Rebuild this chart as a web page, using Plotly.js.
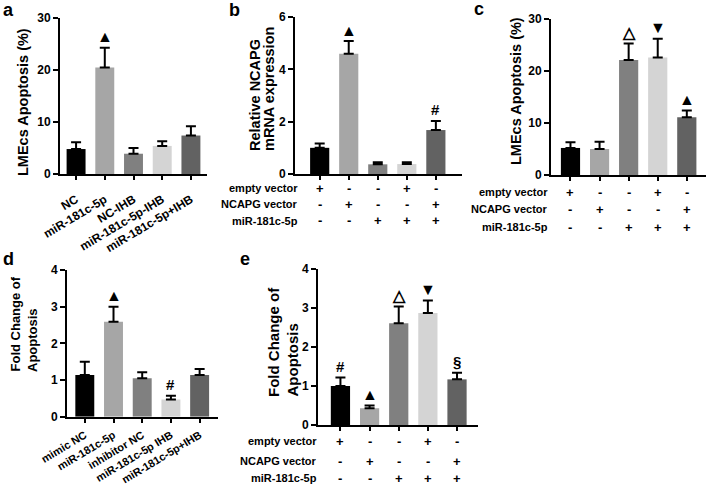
<!DOCTYPE html>
<html>
<head>
<meta charset="utf-8">
<script src="https://cdn.plot.ly/plotly-3.0.1.min.js"></script>
<style>
  body { margin: 0; background: #fff; }
  #plot { width: 708px; height: 488px; }
</style>
</head>
<body>
<div id="plot"></div>
<script>
// panel a
const aLabels = ['NC', 'miR-181c-5p', 'NC-IHB', 'miR-181c-5p-IHB', 'miR-181c-5p+IHB'];
const aMean = [4.8, 20.5, 3.9, 5.4, 7.4];
const aErr = [1.3, 3.8, 1.1, 0.9, 1.8];
const aMarks = ['', '▲', '', '', ''];

// panel b
const bMean = [1.0, 4.6, 0.37, 0.38, 1.68];
const bErr = [0.17, 0.48, 0.08, 0.07, 0.35];
const bMarks = ['', '▲', '', '', '#'];

// panel c
const cMean = [5.2, 5.0, 22.1, 22.6, 11.1];
const cErr = [1.1, 1.4, 3.2, 3.6, 1.3];
const cMarks = ['', '', '△', '▼', '▲'];

// panel d
const dLabels = ['mimic NC', 'miR-181c-5p', 'inhibitor NC', 'miR-181c-5p IHB', 'miR-181c-5p+IHB'];
const dMean = [1.14, 2.59, 1.05, 0.47, 1.14];
const dErr = [0.36, 0.41, 0.16, 0.1, 0.16];
const dMarks = ['', '▲', '', '#', ''];

// panel e
const eMean = [1.0, 0.43, 2.61, 2.87, 1.17];
const eErr = [0.22, 0.07, 0.43, 0.32, 0.17];
const eMarks = ['#', '▲', '△', '▼', '§'];

// +/- table under b, c, e
const rowLabels = ['empty vector', 'NCAPG vector', 'miR-181c-5p'];
const rowSigns = [
    ['+', '-', '-', '+', '-'],
    ['-', '+', '-', '-', '+'],
    ['-', '-', '+', '+', '+']
];

const barColors = ['#000000', '#a6a6a6', '#808080', '#d4d4d4', '#626262'];

const W = 708, H = 488;
const FONT = 'Liberation Sans, Arial, sans-serif';
const px = x => x / W;
const py = y => 1 - y / H;
const idx = [0, 1, 2, 3, 4];

function barTrace(mean, err, n) {
    return {
        type: 'bar',
        x: idx,
        y: mean,
        width: 0.66,
        marker: { color: barColors, line: { width: 0 } },
        error_y: {
            type: 'data', symmetric: false, array: err, arrayminus: mean.map(() => 0),
            color: '#000', thickness: 2, width: 5
        },
        xaxis: 'x' + (n === 1 ? '' : n),
        yaxis: 'y' + (n === 1 ? '' : n),
        hoverinfo: 'skip'
    };
}

const data = [
    barTrace(aMean, aErr, 1),
    barTrace(bMean, bErr, 2),
    barTrace(cMean, cErr, 3),
    barTrace(dMean, dErr, 4),
    barTrace(eMean, eErr, 5)
];

const axisBase = {
    showline: true, linewidth: 2, linecolor: '#000',
    ticks: 'outside', ticklen: 5, tickwidth: 2, tickcolor: '#000',
    showgrid: false, zeroline: false, fixedrange: true,
    tickfont: { family: FONT, size: 12, color: '#000', weight: 'bold' }
};

function xAxis(x0, x1, r, labels, anchor, fsize, standoff) {
    return Object.assign({}, axisBase, {
        domain: [px(x0), px(x1)], range: r, anchor: anchor,
        tickvals: idx, ticktext: labels || idx.map(() => ''),
        showticklabels: !!labels, ticklen: 4, tickangle: labels ? -31 : 0,
        ticklabelstandoff: standoff || 0,
        tickfont: { family: FONT, size: fsize || 12, color: '#000', weight: 'bold' }
    });
}
function yAxis(yBottom, yTop, top, dtick, anchor) {
    return Object.assign({}, axisBase, {
        domain: [py(yBottom), py(yTop)], range: [0, top], dtick: dtick, anchor: anchor
    });
}

const annotations = [];

function addMarks(mean, err, marks, n) {
    marks.forEach((m, i) => {
        if (!m) return;
        annotations.push({
            xref: 'x' + (n === 1 ? '' : n), yref: 'y' + (n === 1 ? '' : n),
            x: i, y: mean[i] + err[i], yshift: 11, yanchor: 'middle',
            text: m, showarrow: false,
            font: { family: FONT, size: m === '#' || m === '§' ? 15 : 16, color: '#000', weight: 'bold' }
        });
    });
}
addMarks(aMean, aErr, aMarks, 1);
addMarks(bMean, bErr, bMarks, 2);
addMarks(cMean, cErr, cMarks, 3);
addMarks(dMean, dErr, dMarks, 4);
addMarks(eMean, eErr, eMarks, 5);

function addTable(n, rowsY, labelRight, size) {
    rowsY.forEach((yy, r) => {
        annotations.push({
            xref: 'paper', yref: 'paper', x: px(labelRight), y: py(yy),
            xanchor: 'right', yanchor: 'middle', text: rowLabels[r], showarrow: false,
            font: { family: FONT, size: size, color: '#000', weight: 'bold' }
        });
        rowSigns[r].forEach((s, i) => {
            annotations.push({
                xref: 'x' + n, yref: 'paper', x: i, y: py(yy),
                yanchor: 'middle', text: s, showarrow: false,
                font: { family: FONT, size: 13, color: '#000', weight: 'bold' }
            });
        });
    });
}
addTable(2, [188, 204, 221], 300, 11);
addTable(3, [192, 209, 227], 550, 11);
addTable(5, [441, 461, 478], 319, 11);

// rotated axis titles, one annotation per line, lines start at a common bottom
function yTitle(text, x, yBottom, size) {
    annotations.push({
        xref: 'paper', yref: 'paper', x: px(x), y: py(yBottom),
        xanchor: 'center', yanchor: 'bottom', textangle: -90,
        text: text, showarrow: false,
        font: { family: FONT, size: size, color: '#000', weight: 'bold' }
    });
}
yTitle('LMEcs Apoptosis (%)', 23, 178, 14.5);
yTitle('Relative NCAPG', 255, 153, 14.5);
yTitle('mRNA expression', 269, 153, 14.5);
yTitle('LMEcs Apoptosis (%)', 516, 167, 14.5);
yTitle('Fold Change of', 15, 374, 13);
yTitle('Apoptosis', 32, 374, 13);
yTitle('Fold Change of', 273, 399, 15);
yTitle('Apoptosis', 292, 399, 15);

function letter(t, x, y) {
    annotations.push({
        xref: 'paper', yref: 'paper', x: px(x), y: py(y),
        xanchor: 'center', yanchor: 'middle', text: t, showarrow: false,
        font: { family: FONT, size: 18, color: '#000', weight: 'bold' }
    });
}
letter('a', 8, 10);
letter('b', 234, 10);
letter('c', 479, 9);
letter('d', 8, 259);
letter('e', 245, 259);

const layout = {
    width: W, height: H,
    margin: { l: 0, r: 0, t: 0, b: 0 },
    paper_bgcolor: '#fff', plot_bgcolor: '#fff',
    showlegend: false,
    xaxis: xAxis(60, 207, [-0.56, 4.56], aLabels, 'y', 12, 8),
    yaxis: yAxis(174, 18, 30, 10, 'x'),
    xaxis2: xAxis(295, 462, [-0.85, 4.9], null, 'y2'),
    yaxis2: yAxis(174, 17, 6, 2, 'x2'),
    xaxis3: xAxis(551, 706, [-0.67, 4.66], null, 'y3'),
    yaxis3: yAxis(175, 19, 30, 10, 'x3'),
    xaxis4: xAxis(67, 218, [-0.62, 4.64], dLabels, 'y4', 11, 2),
    yaxis4: yAxis(416.7, 270, 4, 1, 'x4'),
    xaxis5: xAxis(318, 478, [-0.77, 4.72], null, 'y5'),
    yaxis5: yAxis(425, 269, 4, 1, 'x5'),
    annotations: annotations
};

Plotly.newPlot('plot', data, layout, { displayModeBar: false, staticPlot: true });
</script>
</body>
</html>
